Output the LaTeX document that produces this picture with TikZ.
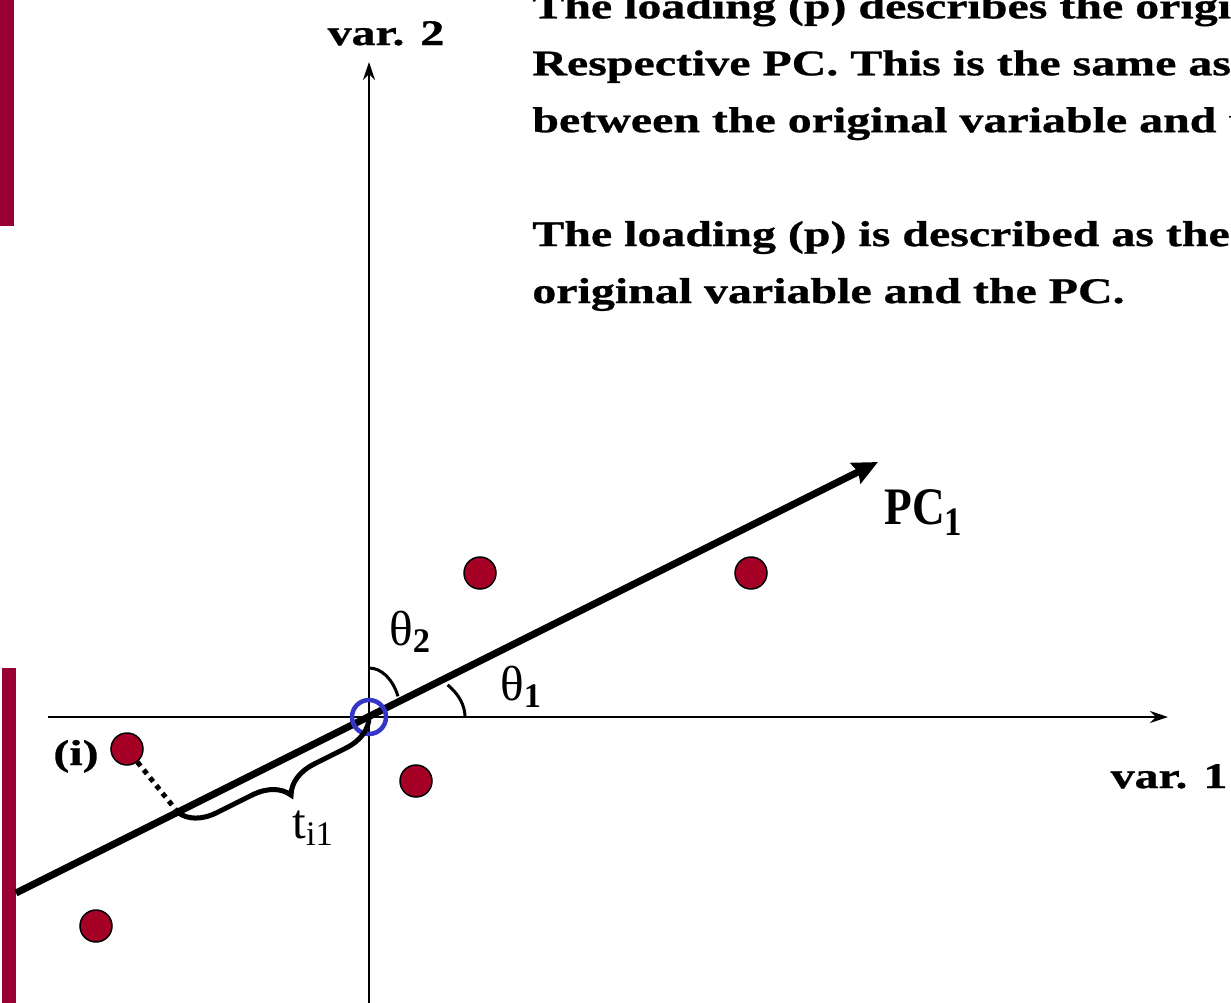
\documentclass[tikz,border=0pt]{standalone}
\usepackage{fontspec}
\setmainfont{Liberation Serif}
\newfontfamily\widefont{Liberation Serif Bold}[FakeStretch=1.33,FakeBold=0.8]
\newfontfamily\narrowfont{Liberation Serif Bold}[FakeStretch=0.86]
\usepackage{tikz}
\usetikzlibrary{arrows.meta,calc,decorations.pathreplacing}
\definecolor{barred}{HTML}{990033}
\definecolor{dotred}{HTML}{A50026}
\definecolor{ringblue}{HTML}{3535C8}

\begin{document}
\begin{tikzpicture}[
  ax/.style={line width=0.04cm,-{Stealth[length=0.36cm,width=0.24cm]}},
  pc/.style={line width=0.14cm,-{Stealth[length=0.5cm,width=0.45cm,inset=0.06cm]}},
  pt/.style={circle,draw=black,line width=0.03cm,fill=dotred,minimum size=0.64cm,inner sep=0pt},
  ring/.style={circle,draw=ringblue,line width=0.09cm,minimum size=0.68cm,inner sep=0pt},
  ang/.style={line width=0.06cm},
  brc/.style={line width=0.1cm,decorate,decoration={brace,amplitude=0.7cm,aspect=0.49}},
  prj/.style={line width=0.1cm,dash pattern=on 0.1cm off 0.1cm},
  lbl/.style={font=\widefont\fontsize{20.5}{24}\selectfont,inner sep=0pt},
  sym/.style={font=\fontsize{28}{32}\selectfont,inner sep=0pt}]
  \useasboundingbox (0,0) rectangle (24.62,-20.06);
  \clip (0,0) rectangle (24.62,-20.06);
  % side bars of the slide
  \fill[barred] (0,0) rectangle (0.28,-4.52);
  \fill[barred] (0.04,-13.36) rectangle (0.32,-20.06);
  % axes
  \coordinate (O) at (7.38,-14.34);
  \coordinate (xs) at (0.96,-14.34);
  \coordinate (xe) at (23.36,-14.34);
  \coordinate (ys) at (7.38,-20.06);
  \coordinate (ye) at (7.38,-1.24);
  \draw[ax] (xs) -- (xe);
  \draw[ax] (ys) -- (ye);
  % first principal component
  \coordinate (ps) at (0.32,-17.86);
  \coordinate (pe) at (17.56,-9.24);
  \coordinate (foot) at (3.56,-16.25);
  \draw[pc] (ps) -- (pe);
  % samples
  \node[pt] (s1) at (9.6,-11.46) {};
  \node[pt] (s2) at (15.02,-11.46) {};
  \node[pt] (s3) at (8.32,-15.62) {};
  \node[pt] (si) at (2.54,-14.98) {};
  \node[pt] (s5) at (1.92,-18.52) {};
  \draw[prj] (si) -- (foot);
  % angles
  \draw[ang] ($(O)+(1.92,0)$) arc[start angle=0,end angle=35,x radius=1.92,y radius=1.12];
  \draw[ang] ($(O)+(0,0.98)$) arc[start angle=90,end angle=25,x radius=0.64,y radius=0.98];
  \node[ring] (orig) at (O) {};
  \draw[brc] (O) -- (foot);
  % labels
  \node[lbl,anchor=base] (v2) at (7.72,-0.9) {var. 2};
  \node[lbl,anchor=base] (v1) at (23.38,-15.76) {var. 1};
  \node[lbl,anchor=base] (il) at (1.52,-15.3) {(i)};
  \node[anchor=base west,inner sep=0pt,font=\narrowfont\fontsize{30}{34}\selectfont] (pcl) at (17.68,-10.48) {PC\textsubscript{\fontsize{23}{24}\selectfont 1}};
  \node[sym,anchor=base west] (t2) at (7.78,-12.9) {θ\textsubscript{\bfseries 2}};
  \node[sym,anchor=base west] (t1) at (10.0,-14.0) {θ\textsubscript{\bfseries 1}};
  \node[sym,anchor=base west] (ti) at (5.84,-16.76) {t\textsubscript{i1}};
  \node[lbl,anchor=base west,align=left,font=\widefont\fontsize{20.5}{32.4}\selectfont] (txt) at (10.64,-6.06)
    {The loading (p) describes the original\\
     Respective PC. This is the same as\\
     between the original variable and the\\[32.4pt]
     The loading (p) is described as the\\
     original variable and the PC.};
\end{tikzpicture}
\end{document}
